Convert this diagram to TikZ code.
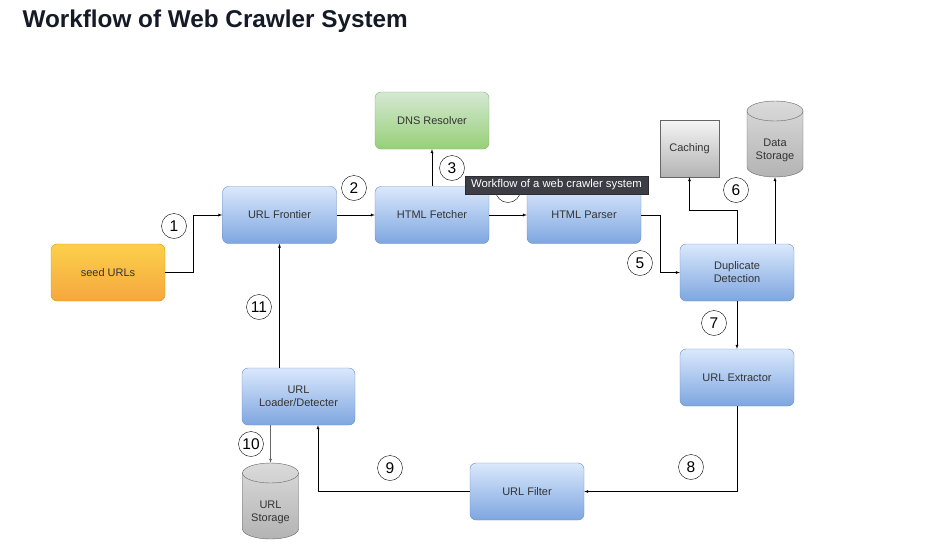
\documentclass[tikz,border=0pt]{standalone}
\usepackage{fontspec}
\setmainfont{Liberation Sans}
\usetikzlibrary{shapes.geometric, calc, positioning}
\definecolor{txtGray}{HTML}{333333}
\definecolor{titleInk}{HTML}{141A26}
\definecolor{blueTop}{HTML}{DAE8FC}
\definecolor{blueBot}{HTML}{7EA6E0}
\definecolor{blueLine}{HTML}{6C8EBF}
\definecolor{greenTop}{HTML}{D5E8D4}
\definecolor{greenBot}{HTML}{97D077}
\definecolor{greenLine}{HTML}{82B366}
\definecolor{orangeTop}{HTML}{FCD04A}
\definecolor{orangeBot}{HTML}{F5A73F}
\definecolor{orangeLine}{HTML}{D79B00}
\definecolor{grayTop}{HTML}{F5F5F5}
\definecolor{grayBot}{HTML}{B3B3B3}
\definecolor{grayLine}{HTML}{666666}
\definecolor{tipFill}{HTML}{3D3D45}
\tikzset{
    box/.style={rectangle, rounded corners=6pt, minimum width=114pt, minimum height=57pt, inner sep=2pt, align=center, text=txtGray, font=\fontsize{11}{13}\selectfont},
    blueBox/.style={box, draw=blueLine, top color=blueTop, bottom color=blueBot},
    greenBox/.style={box, draw=greenLine, top color=greenTop, bottom color=greenBot},
    orangeBox/.style={box, draw=orangeLine, top color=orangeTop, bottom color=orangeBot},
    grayBox/.style={box, rounded corners=0pt, draw=grayLine, top color=grayTop, bottom color=grayBot, minimum width=59pt},
    storeShade/.style={draw=grayLine, top color=grayTop!60!grayBot, bottom color=grayBot},
    storeBody/.style={rectangle, minimum width=56pt, minimum height=76pt, inner sep=0pt},
    storeText/.style={align=center, text=txtGray, inner sep=0pt, font=\fontsize{11}{13}\selectfont},
    flow/.style={->, >=latex, thin},
    stepnum/.style={circle, draw, thin, fill=white, minimum size=25pt, inner sep=0pt, font=\fontsize{15.5}{16}\selectfont},
}
\newcommand{\stepNum}[3]{
    \node[stepnum] (#1) at (#2) {#3};
}
\newcommand{\drawStore}[3]{
    % cylinder body, then its top rim
    \path[storeShade] ($(#2)+(-28,-28)$) -- ($(#2)+(-28,28)$)
        arc[start angle=180, end angle=0, x radius=28, y radius=10]
        -- ($(#2)+(28,-28)$)
        arc[start angle=0, end angle=-180, x radius=28, y radius=10] -- cycle;
    \draw[grayLine] ($(#2)+(-28,-28)$) arc[start angle=180, end angle=0, x radius=28, y radius=10];
    \node[storeBody] (#1) at (#2) {};
    \node[storeText] (#1Text) at ($(#2)+(0,11)$) {#3};
}

\begin{document}
\begin{tikzpicture}[x=1pt, y=-1pt]

    \useasboundingbox (0,0) rectangle (939,558);

    \node[anchor=west, text=titleInk, font=\fontsize{24.3}{28}\bfseries] (title) at (19,21) {Workflow of Web Crawler System};

    % boxes
    \node[orangeBox] (seed) at (108,272.5) {seed URLs};
    \node[blueBox] (frontier) at (279.5,215) {URL Frontier};
    \node[blueBox] (fetcher) at (432,215) {HTML Fetcher};
    \node[blueBox] (parser) at (584,215) {HTML Parser};
    \node[greenBox] (dns) at (432,120.5) {DNS Resolver};
    \node[grayBox] (caching) at (689.5,148.5) {Caching};
    \drawStore{data}{775,139}{Data\\Storage}
    \node[blueBox] (dup) at (737,272.5) {Duplicate\\Detection};
    \node[blueBox] (extractor) at (737,377.5) {URL Extractor};
    \node[blueBox] (filter) at (527,491.5) {URL Filter};
    \node[blueBox, minimum width=113pt] (loader) at (298.5,396.5) {URL\\Loader/Detecter};
    \drawStore{urlstore}{270.5,501}{URL\\Storage}

    % connectors
    \draw[flow] (seed.east) -- ++(28,0) |- (frontier.west);
    \draw[flow] (frontier) -- (fetcher);
    \draw[flow] (fetcher.north) -- (dns.south);
    \draw[flow] (fetcher) -- (parser);
    \draw[flow] (parser.east) -- ++(19,0) |- (dup.west);
    \draw[flow] (dup.north) -- ++(0,-34) -| (caching.south);
    \draw[flow] (dup.north -| data.south) -- (data.south);
    \draw[flow] (dup) -- (extractor);
    \draw[flow] (extractor.south) |- (filter.east);
    \coordinate (loaderIn) at ($(loader.south)+(19.5,0)$);
    \draw[flow] (filter.west) -| (loaderIn);
    \draw[flow, grayLine] (loader.south -| urlstore.north) -- (urlstore.north);
    \draw[flow] (loader.north -| frontier.south) -- (frontier.south);

    % step numbers
    \stepNum{s1}{174,226}{1}
    \stepNum{s2}{354,188}{2}
    \stepNum{s3}{452,168}{3}
    \stepNum{s4}{508,190}{4}
    \stepNum{s5}{640,263}{5}
    \stepNum{s6}{736,190}{6}
    \stepNum{s7}{714,323}{7}
    \stepNum{s8}{691,467}{8}
    \stepNum{s9}{390,468}{9}
    \stepNum{s10}{251,444}{10}
    \stepNum{s11}{259,307}{11}

    % tooltip
    \node[fill=tipFill, draw=tipFill!70!black, text=white, minimum width=183pt, minimum height=18pt, inner sep=1pt, font=\fontsize{11.3}{13}\selectfont] (tip) at (556.5,185) {Workflow of a web crawler system};

\end{tikzpicture}
\end{document}
